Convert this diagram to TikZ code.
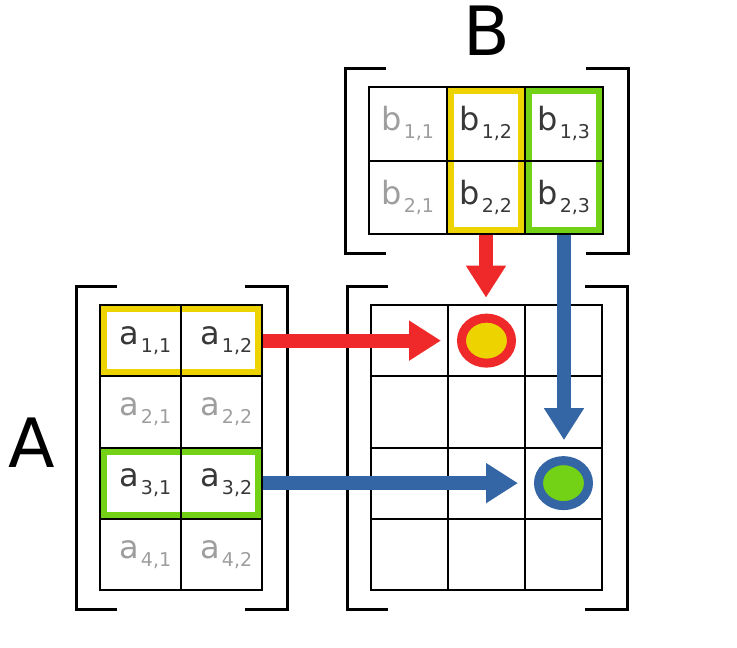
\documentclass[tikz,border=0pt]{standalone}
\usepackage{fontspec}
\setmainfont{DejaVu Sans}
\usetikzlibrary{calc,arrows.meta,shapes.geometric,backgrounds}

\definecolor{tyellow}{HTML}{EDD400}
\definecolor{tgreen}{HTML}{73D216}
\definecolor{tred}{HTML}{EF2929}
\definecolor{tblue}{HTML}{3465A4}
\colorlet{dark}{black!78}
\colorlet{light}{black!38}

\newcommand{\subidx}[1]{\kern1.5pt\raisebox{-8pt}{\fontsize{19}{19}\selectfont#1}}

\begin{document}
\begin{tikzpicture}[x=1pt,y=-1pt,
  cell/.style={draw, line width=2pt, inner sep=0pt, font=\fontsize{32}{34}\selectfont},
  bracket/.style={draw, line width=3pt},
  hlyellow/.style={draw=tyellow, line width=8pt},
  hlgreen/.style={draw=tgreen, line width=8pt},
  redarrow/.style={draw=tred, line width=14pt, -{Triangle[length=32pt,width=38pt]}, shorten >=16pt},
  bluearrow/.style={draw=tblue, line width=14pt, -{Triangle[length=32pt,width=38pt]}, shorten >=16pt},
  product/.style={ellipse, line width=9pt, inner sep=0pt, minimum width=50pt, minimum height=45pt}
]
\useasboundingbox (0,0) rectangle (737,648);

% Matrix A (4 x 2)
\foreach \i/\col in {1/dark,2/light,3/dark,4/light}
{
    \foreach \j in {1,2}
    {
        \node[cell, minimum width=81pt, minimum height=71.25pt, text=\col] (a-\i-\j)
            at ({100+81*(\j-0.5)},{305+71.25*(\i-0.5)}) {\kern10pt a\subidx{\i,\j}};
    }
}

% Matrix B (2 x 3)
\foreach \j/\col in {1/light,2/dark,3/dark}
{
    \foreach \i in {1,2}
    {
        \node[cell, minimum width=78pt, minimum height=73.5pt, text=\col] (b-\i-\j)
            at ({369+78*(\j-0.5)},{87+73.5*(\i-0.5)}) {b\subidx{\i,\j}};
    }
}

% Matrix C (4 x 3), empty
\foreach \i in {1,...,4}
{
    \foreach \j in {1,2,3}
    {
        \node[cell, minimum width=77pt, minimum height=71.25pt] (c-\i-\j)
            at ({371+77*(\j-0.5)},{305+71.25*(\i-0.5)}) {};
    }
}

% Highlighted rows and columns
\begin{scope}[on background layer]
    \draw[hlyellow] ($(a-1-1.north west)+(4,4)$) rectangle ($(a-1-2.south east)+(-4,-4)$);
    \draw[hlgreen] ($(a-3-1.north west)+(4,4)$) rectangle ($(a-3-2.south east)+(-4,-4)$);
    \draw[hlyellow] ($(b-1-2.north west)+(4,4)$) rectangle ($(b-2-2.south east)+(-4,-4)$);
    \draw[hlgreen] ($(b-1-3.north west)+(4,4)$) rectangle ($(b-2-3.south east)+(-4,-4)$);
\end{scope}

% Brackets round each matrix
\foreach \nw/\se in {a-1-1/a-4-2, b-1-1/b-2-3, c-1-1/c-4-3}
{
    \draw[bracket] ($(\nw.north west)+(18,-18)$) -| ($(\nw.north west |- \se.south east)+(-23,18)$) -- ++(41,0);
    \draw[bracket] ($(\se.north east |- \nw.north west)+(-18,-18)$) -| ($(\se.south east)+(24,18)$) -- ++(-42,0);
}

% Labels
\node[font=\fontsize{68}{68}\selectfont, anchor=base] (labB) at (487,55) {B};
\node[font=\fontsize{68}{68}\selectfont, anchor=base] (labA) at (32,467) {A};

% Products
\node[product, draw=tred, fill=tyellow] (p-1-2) at (c-1-2) {};
\node[product, draw=tblue, fill=tgreen] (p-3-3) at (c-3-3) {};

% Arrows
\draw[redarrow] (a-1-2.east) -- (p-1-2.west);
\draw[redarrow] (b-2-2.south) -- (b-2-2.south |- p-1-2.north);
\draw[bluearrow] (a-3-2.east) -- (p-3-3.west);
\draw[bluearrow] (b-2-3.south) -- (b-2-3.south |- p-3-3.north);

\end{tikzpicture}
\end{document}
